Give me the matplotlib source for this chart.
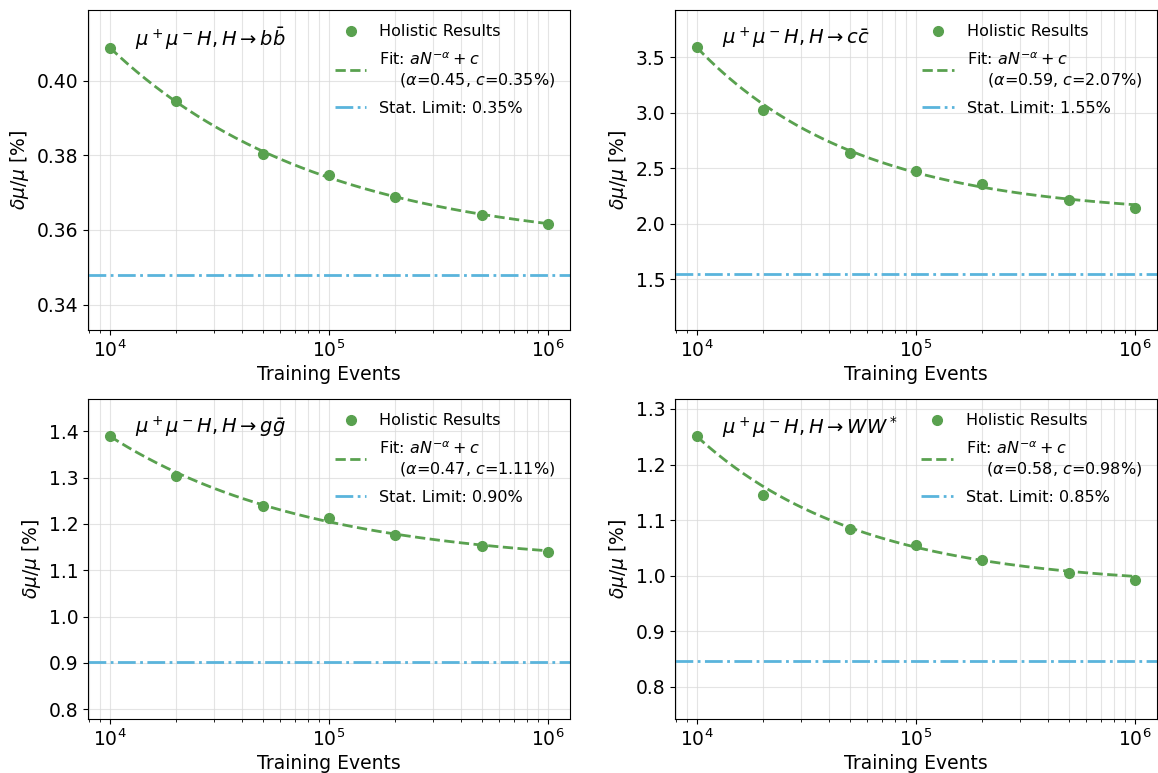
import matplotlib
matplotlib.use("Agg")
import matplotlib.pyplot as plt
import numpy as np

# training set sizes
n_events = [1e4, 2e4, 5e4, 1e5, 2e5, 5e5, 1e6]

# measured relative precision on mu [%]
res_bb = [0.4088, 0.3946, 0.3804, 0.3746, 0.3687, 0.3640, 0.3617]
res_cc = [3.590, 3.029, 2.638, 2.477, 2.360, 2.214, 2.142]
res_gg = [1.390, 1.303, 1.238, 1.213, 1.177, 1.153, 1.139]
res_ww = [1.251, 1.145, 1.084, 1.055, 1.029, 1.004, 0.993]

# power-law fit parameters  a * N^-alpha + c
fit_alpha = [0.45, 0.59, 0.47, 0.58]
fit_a = [3.402, 348.1, 21.2, 56.54]
fit_c = [0.3549, 2.07, 1.11, 0.98]

# statistical limits [%]
stat_limit = [0.348, 1.548, 0.903, 0.846]

channels = [r"$\mu^+\mu^-H, H\rightarrow b\bar{b}$",
            r"$\mu^+\mu^-H, H\rightarrow c\bar{c}$",
            r"$\mu^+\mu^-H, H\rightarrow g\bar{g}$",
            r"$\mu^+\mu^-H, H\rightarrow WW^*$"]
ylims = [(0.3333, 0.4189), (1.044, 3.927), (0.780, 1.470), (0.743, 1.318)]
yticks = [[0.34, 0.36, 0.38, 0.40],
          [1.5, 2.0, 2.5, 3.0, 3.5],
          [0.8, 0.9, 1.0, 1.1, 1.2, 1.3, 1.4],
          [0.8, 0.9, 1.0, 1.1, 1.2, 1.3]]
results = [res_bb, res_cc, res_gg, res_ww]

green = "#59a14f"
blue = "#5ab4dc"

fig, axes = plt.subplots(2, 2, figsize=(11.58, 7.73), dpi=100)
fig.subplots_adjust(left=0.076, right=0.999, top=0.987, bottom=0.0705,
                    wspace=0.218, hspace=0.217)

N_fine = np.logspace(4, 6, 200)
for i, ax in enumerate(axes.flat):
    y = results[i]
    ax.plot(n_events, y, "o", color=green, markersize=7, label="Holistic Results", zorder=3)
    curve = fit_a[i] * N_fine ** (-fit_alpha[i]) + fit_c[i]
    ax.plot(N_fine, curve, "--", color=green, lw=2,
            label=f"Fit: $aN^{{-\\alpha}}+c$\n    ($\\alpha$={fit_alpha[i]:.2f}, $c$={fit_c[i]:.2f}%)")
    ax.axhline(stat_limit[i], color=blue, ls="-.", lw=2,
               label=f"Stat. Limit: {stat_limit[i]:.2f}%")
    ax.set_xscale("log")
    ax.set_ylim(*ylims[i])
    ax.set_yticks(yticks[i])
    ax.grid(True, which="both", color="#d9d9d9", lw=0.8, alpha=0.7)
    ax.tick_params(labelsize=13.5)
    ax.set_xlabel("Training Events", fontsize=13.5, labelpad=3)
    ax.set_ylabel(r"$\delta\mu/\mu$ [%]", fontsize=13.5)
    ax.text(0.097, 0.912, channels[i], transform=ax.transAxes, fontsize=14, va="center")
    ax.legend(loc="upper right", frameon=False, fontsize=11.5, labelspacing=0.75)

plt.savefig("out.png", dpi=100)
